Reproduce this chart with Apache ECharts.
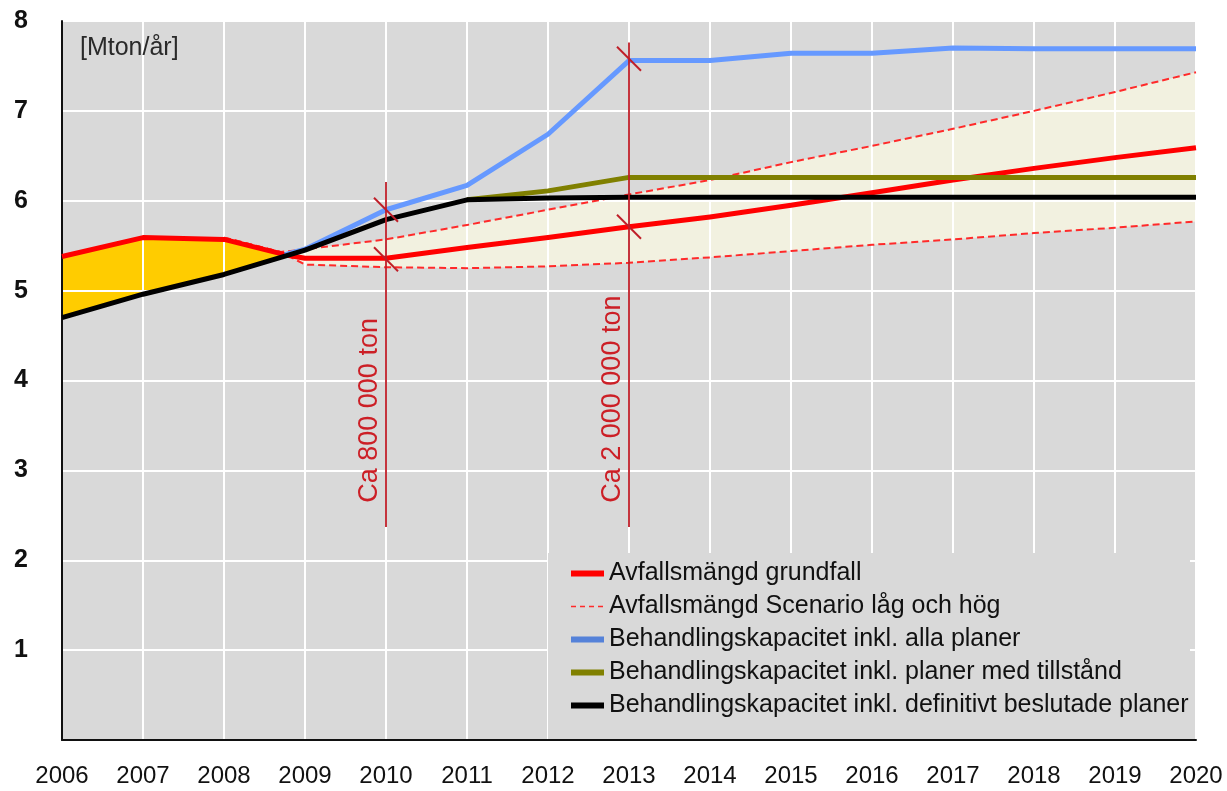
<!DOCTYPE html>
<html>
<head>
<meta charset="utf-8">
<script src="https://cdn.jsdelivr.net/npm/echarts@6/dist/echarts.min.js"></script>
<style>
  html, body { margin: 0; padding: 0; background: #ffffff; }
  #chart { width: 1227px; height: 791px; }
</style>
</head>
<body>
<div id="chart"></div>
<script>
// ---- data ----
const yearTicks = [2006, 2007, 2008, 2009, 2010, 2011, 2012, 2013, 2014, 2015, 2016, 2017, 2018, 2019, 2020];
const valueTicks = [0, 1, 2, 3, 4, 5, 6, 7, 8];

const grundfall = [[2006, 5.38], [2007, 5.59], [2008, 5.57], [2008.75, 5.40], [2009, 5.36], [2010, 5.36], [2011, 5.48], [2012, 5.59], [2013, 5.71], [2014, 5.82], [2015, 5.95], [2016, 6.09], [2017, 6.23], [2018, 6.36], [2019, 6.48], [2020, 6.59]];
const scenarioHog = [[2008, 5.59], [2008.7, 5.43], [2009, 5.46], [2010, 5.57], [2011, 5.73], [2012, 5.90], [2013, 6.07], [2014, 6.23], [2015, 6.43], [2016, 6.61], [2017, 6.80], [2018, 7.00], [2019, 7.21], [2020, 7.43]];
const scenarioLag = [[2008, 5.59], [2008.7, 5.43], [2009, 5.29], [2010, 5.26], [2011, 5.25], [2012, 5.27], [2013, 5.31], [2014, 5.37], [2015, 5.44], [2016, 5.51], [2017, 5.57], [2018, 5.64], [2019, 5.70], [2020, 5.77]];
const allaPlaner = [[2008.75, 5.40], [2009, 5.46], [2010, 5.90], [2011, 6.17], [2012, 6.74], [2013, 7.56], [2014, 7.56], [2015, 7.64], [2016, 7.64], [2017, 7.70], [2018, 7.69], [2019, 7.69], [2020, 7.69]];
const medTillstand = [[2011, 6.01], [2012, 6.11], [2013, 6.26], [2014, 6.26], [2015, 6.26], [2016, 6.26], [2017, 6.26], [2018, 6.26], [2019, 6.26], [2020, 6.26]];
const beslutade = [[2006, 4.70], [2007, 4.96], [2008, 5.18], [2009, 5.45], [2010, 5.79], [2011, 6.01], [2012, 6.03], [2013, 6.04], [2014, 6.04], [2015, 6.04], [2016, 6.04], [2017, 6.04], [2018, 6.04], [2019, 6.04], [2020, 6.04]];

// deficit area: grundfall above beslutade until they meet
const deficitTop = [[2006, 5.38], [2007, 5.59], [2008, 5.57], [2008.75, 5.40]];
const deficitBottom = [[2006, 4.70], [2007, 4.96], [2008, 5.18]];

// annotations
const markerYears = [2010, 2013];
const markerTop = [6.21, 7.76];
const markerBottom = [2.37, 2.37];
const markerCross = [[5.90, 5.35], [7.58, 5.71]];
const markerLabels = ['Ca 800 000 ton', 'Ca 2 000 000 ton'];
const markerLabelBase = [2.64, 2.64];

const names = {
  grund: 'Avfallsmängd grundfall',
  scen: 'Avfallsmängd Scenario låg och hög',
  alla: 'Behandlingskapacitet inkl. alla planer',
  till: 'Behandlingskapacitet inkl. planer med tillstånd',
  besl: 'Behandlingskapacitet inkl. definitivt beslutade planer'
};
const unitLabel = '[Mton/år]';

// ---- chart ----
const FONT = '"Liberation Sans", Arial, sans-serif';
const chart = echarts.init(document.getElementById('chart'), null, { renderer: 'canvas' });

function lineSeries(name, data, color, width, dashed, z) {
  return {
    name: name, type: 'line', data: data, symbol: 'none', z: z,
    lineStyle: { color: color, width: width, type: dashed ? [7, 4] : 'solid', cap: 'butt', join: 'round' },
    itemStyle: { color: color },
    silent: true, animation: false
  };
}

const option = {
  animation: false,
  textStyle: { fontFamily: FONT },
  grid: { left: 62, right: 31, top: 21, bottom: 51, show: true, backgroundColor: '#d9d9d9', borderWidth: 0 },
  xAxis: {
    type: 'value', min: yearTicks[0], max: yearTicks[yearTicks.length - 1], interval: 1, z: 1.5,
    axisLine: { show: true, onZero: false, lineStyle: { color: '#111', width: 2 } },
    axisTick: { show: false },
    splitLine: { show: true, lineStyle: { color: '#ffffff', width: 2 } },
    axisLabel: { color: '#111', fontSize: 24, fontFamily: FONT, margin: 24, formatter: v => String(v) }
  },
  yAxis: {
    type: 'value', min: valueTicks[0], max: valueTicks[valueTicks.length - 1], interval: 1, z: 1.5,
    axisLine: { show: true, onZero: false, lineStyle: { color: '#111', width: 2 } },
    axisTick: { show: false },
    splitLine: { show: true, lineStyle: { color: '#ffffff', width: 2 } },
    axisLabel: { color: '#111', fontSize: 25, fontWeight: 'bold', fontFamily: FONT, margin: 34,
      formatter: v => (v === 0 ? '' : String(v)) }
  },
  legend: {
    orient: 'vertical', left: 568, top: 561, padding: 0, itemGap: 8,
    itemWidth: 33, itemHeight: 14,
    itemStyle: { opacity: 0, borderWidth: 0 },
    textStyle: { color: '#111', fontSize: 25, lineHeight: 25, fontFamily: FONT },
    data: [
      { name: names.grund, lineStyle: { width: 6 } },
      { name: names.scen, lineStyle: { width: 1.5, type: [5, 4] } },
      { name: names.alla, lineStyle: { width: 6, color: '#5582d9' } },
      { name: names.till, lineStyle: { width: 6 } },
      { name: names.besl, lineStyle: { width: 6 } }
    ],
    selectedMode: false
  },
  graphic: [
    { type: 'rect', z: 1.8, silent: true, shape: { x: 548, y: 553, width: 642, height: 186 }, style: { fill: '#d9d9d9' } },
    { type: 'text', z: 5, silent: true, x: 80, y: 48, style: { text: unitLabel, fill: '#2a2a2a', font: '25px ' + FONT, verticalAlign: 'middle', align: 'left' } }
  ],
  series: [
    {
      type: 'custom', name: 'fills', coordinateSystem: 'cartesian2d', z: 1, silent: true,
      data: [[yearTicks[0], 5]],
      renderItem: function (params, api) {
        const deficit = deficitTop.concat(deficitBottom.slice().reverse()).map(p => api.coord(p));
        const band = scenarioHog.concat(scenarioLag.slice().reverse()).map(p => api.coord(p));
        return {
          type: 'group',
          children: [
            { type: 'polygon', shape: { points: deficit }, style: { fill: '#ffcc00' } },
            { type: 'polygon', shape: { points: band }, style: { fill: '#f2f1e0' } }
          ]
        };
      }
    },
    lineSeries(names.scen, scenarioHog, '#ff2a2a', 2, true, 2),
    lineSeries(names.scen, scenarioLag, '#ff2a2a', 2, true, 2),
    lineSeries(names.grund, grundfall, '#ff0000', 5, false, 2),
    lineSeries(names.alla, allaPlaner, '#6699ff', 5, false, 2),
    lineSeries(names.till, medTillstand, '#808000', 5, false, 2),
    lineSeries(names.besl, beslutade, '#000000', 5, false, 2),
    {
      type: 'custom', name: 'markers', coordinateSystem: 'cartesian2d', z: 3, silent: true,
      data: markerYears.map((y, i) => [y, markerTop[i]]),
      renderItem: function (params, api) {
        const i = params.dataIndex;
        const x = markerYears[i];
        const top = api.coord([x, markerTop[i]]);
        const bot = api.coord([x, markerBottom[i]]);
        const children = [
          { type: 'line', shape: { x1: top[0], y1: top[1], x2: bot[0], y2: bot[1] }, style: { stroke: '#bf1e28', lineWidth: 1.8 } }
        ];
        markerCross[i].forEach(v => {
          const c = api.coord([x, v]);
          children.push({ type: 'line', shape: { x1: c[0] - 12, y1: c[1] - 12, x2: c[0] + 12, y2: c[1] + 12 }, style: { stroke: '#bf1e28', lineWidth: 2 } });
        });
        const lp = api.coord([x, markerLabelBase[i]]);
        children.push({
          type: 'text', x: lp[0] - 16, y: lp[1], rotation: Math.PI / 2,
          style: { text: markerLabels[i], fill: '#cc1f26', font: '27px ' + FONT, align: 'left', verticalAlign: 'middle' }
        });
        return { type: 'group', children: children };
      }
    }
  ]
};
chart.setOption(option);
</script>
</body>
</html>
